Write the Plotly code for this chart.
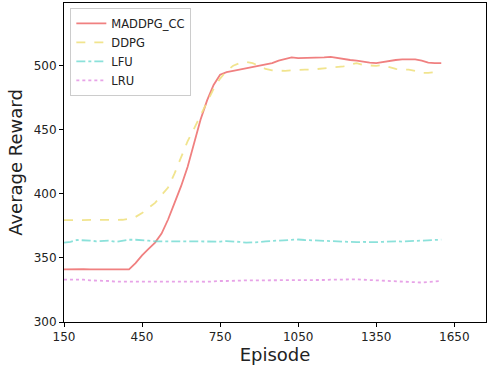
import plotly.graph_objects as go

episodes = list(range(150, 1601, 25))

maddpg_cc = [341, 341.2, 341, 341.3, 341, 341, 341.2, 341, 341, 340.8, 341,
             346, 352, 357, 362, 369, 380, 393, 406, 421, 440, 458, 473, 485, 493,
             495, 496, 497, 498, 498.5, 500, 501, 502, 504, 505, 506.5, 506, 506, 506,
             506.5, 506.5, 507, 506, 505.5, 504.5, 504, 503, 502.5, 502, 503, 504,
             504.5, 505, 505, 505, 504, 502.5, 502, 502]

ddpg = [379.5, 379.5, 380, 380, 380, 379.8, 379.5, 379.5, 379.5, 379.8, 380.5,
        382, 385, 389, 393, 399, 405, 416, 428, 441, 451, 461, 472, 482, 490,
        496, 500, 502, 503, 502, 500, 497.5, 496.5, 496, 496, 496.5, 497, 497, 497,
        497.5, 498, 498.5, 498.5, 499.5, 501, 502, 500.5, 500, 500, 500.5, 499,
        497.5, 497, 497, 496, 494.5, 494.5, 495, 494.5]

lfu = [362, 362.5, 364, 364, 363.5, 363, 363, 363.5, 362.5, 363.5, 364.2,
       364.2, 364, 363.5, 363, 363, 363, 363, 363, 363, 362.7, 362.5, 362.8, 363, 362.8,
       363.2, 363, 362.5, 362, 362, 362.3, 363, 363.2, 363.5, 364, 364.3, 364.4, 364, 363.8,
       363.5, 363.2, 363, 362.8, 362.5, 362.3, 362.3, 362.5, 362.3, 362.3, 362.6, 363,
       363, 362.8, 363, 363.2, 363.5, 364, 364.3, 364.3]

lru = [333, 333, 333.2, 333, 332.5, 332.5, 332, 332, 331.5, 331.5, 331.8,
       331.8, 331.8, 332, 332, 331.8, 332, 331.8, 332, 331.8, 331.8, 331.5, 331.4, 331.8, 332,
       332, 332.3, 332.3, 332.5, 332.5, 332.5, 332.4, 332.5, 332.5, 332.5, 332.6, 332.6, 332.6, 332.5,
       332.5, 332.8, 333, 333.2, 333.3, 333.5, 333.3, 333, 332.7, 332.5, 332.5, 332.2,
       331.8, 331.5, 331.2, 331, 330.8, 331.3, 331.8, 332]

x_ticks = [150, 450, 750, 1050, 1350, 1650]
y_ticks = [300, 350, 400, 450, 500]

series = [
    ("MADDPG_CC", maddpg_cc, "rgba(240,128,128,1)", "solid"),
    ("DDPG", ddpg, "rgba(240,225,130,0.9)", "dash"),
    ("LFU", lfu, "rgba(100,215,205,0.75)", "dashdot"),
    ("LRU", lru, "rgba(225,140,225,0.8)", "dot"),
]

fig = go.Figure()
for name, vals, color, dash in series:
    fig.add_trace(go.Scatter(x=episodes, y=vals, mode="lines", name=name,
                             line=dict(color=color, width=1.8, dash=dash)))

axis_common = dict(showline=True, linecolor="black", linewidth=1, mirror=True,
                   ticks="outside", ticklen=4, tickcolor="black", showgrid=False,
                   zeroline=False, automargin=False, tickfont=dict(size=12, color="#222"))

fig.update_layout(
    width=487, height=369,
    margin=dict(l=64, r=1, t=3, b=47),
    paper_bgcolor="white", plot_bgcolor="white",
    font=dict(family="DejaVu Sans", color="#222"),
    xaxis=dict(range=[150, 1772], tickvals=x_ticks,
               title=dict(text="Episode", font=dict(size=18), standoff=4), **axis_common),
    yaxis=dict(range=[300, 549], tickvals=y_ticks,
               title=dict(text="Average Reward", font=dict(size=18), standoff=6), **axis_common),
    legend=dict(x=0.015, y=0.985, xanchor="left", yanchor="top",
                bgcolor="rgba(255,255,255,0.8)", bordercolor="#ccc", borderwidth=1,
                font=dict(size=11.5), tracegroupgap=0, itemwidth=30),
    showlegend=True,
)

fig.write_html("out.html", config={"displayModeBar": False},
               post_script="document.body.style.margin='0';document.body.style.overflow='hidden';")
